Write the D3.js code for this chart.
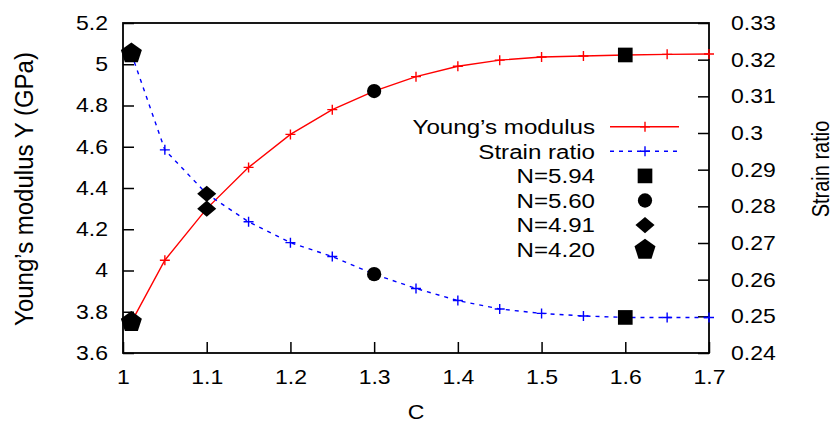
<!DOCTYPE html>
<html>
<head>
<meta charset="utf-8">
<script src="https://cdn.jsdelivr.net/npm/d3@7"></script>
<style>
body { margin: 0; background: #fff; }
svg text { font-family: 'Liberation Sans', Arial, sans-serif; fill: #000; }
</style>
</head>
<body>
<svg id="chart"></svg>
<script>
// sampled C values (both curves share them)
const cValues = [1.01, 1.05, 1.1, 1.15, 1.2, 1.25, 1.3, 1.35, 1.4, 1.45, 1.5, 1.55, 1.6, 1.65, 1.7];
const youngValues = [3.75, 4.05, 4.30, 4.50, 4.66, 4.78, 4.87, 4.94, 4.99, 5.02, 5.035, 5.04, 5.045, 5.048, 5.05];
const strainValues = [0.3217, 0.2954, 0.2834, 0.2758, 0.2701, 0.2663, 0.2615, 0.2576, 0.2543, 0.2520, 0.2508, 0.2501, 0.2497, 0.2497, 0.2497];

// highlighted points
const nLabels = ['N=5.94', 'N=5.60', 'N=4.91', 'N=4.20'];
const nC = [1.6, 1.3, 1.1, 1.01];

const seriesNames = ['Young\u2019s modulus', 'Strain ratio'];
const xTicks = [1, 1.1, 1.2, 1.3, 1.4, 1.5, 1.6, 1.7];
const yTicks = [3.6, 3.8, 4, 4.2, 4.4, 4.6, 4.8, 5, 5.2];
const y2Ticks = [0.24, 0.25, 0.26, 0.27, 0.28, 0.29, 0.3, 0.31, 0.32, 0.33];

const width = 833, height = 423;
const margin = {top: 23, right: 124, bottom: 70, left: 123};
const innerW = width - margin.left - margin.right;
const innerH = height - margin.top - margin.bottom;
const SX = 1.15; // text is a bit wider than tall in the reference

const svg = d3.select('#chart').attr('width', width).attr('height', height);
const chart = svg.append('g')
    .attr('transform', `translate(${margin.left},${margin.top})`);

const xscale = d3.scaleLinear().domain([1, 1.7]).range([0, innerW]);
const yscale = d3.scaleLinear().domain([3.6, 5.2]).range([innerH, 0]);
const y2scale = d3.scaleLinear().domain([0.24, 0.33]).range([innerH, 0]);

// custom marker shapes
const symbolPentagon = {
    draw(ctx, size) {
        const r = Math.sqrt(size / 2.378);
        for (let i = 0; i < 5; i++) {
            const a = -Math.PI / 2 + i * 2 * Math.PI / 5;
            if (i == 0) ctx.moveTo(r * Math.cos(a), r * Math.sin(a));
            else ctx.lineTo(r * Math.cos(a), r * Math.sin(a));
        }
        ctx.closePath();
    }
};
const symbolWideDiamond = {
    draw(ctx, size) {
        const a = Math.sqrt(size / 1.7), b = 0.85 * a;
        ctx.moveTo(0, -b);
        ctx.lineTo(a, 0);
        ctx.lineTo(0, b);
        ctx.lineTo(-a, 0);
        ctx.closePath();
    }
};
const nShapes = [
    d3.symbol(d3.symbolSquare, 215),
    d3.symbol(d3.symbolCircle, 160),
    d3.symbol(symbolWideDiamond, 155),
    d3.symbol(symbolPentagon, 290)
];

// axes, ticks pointing inward
const fmt = d3.format('');
const xaxis = d3.axisBottom(xscale).tickValues(xTicks).tickFormat(fmt)
    .tickSizeInner(-11).tickSizeOuter(0).tickPadding(17);
const yaxis = d3.axisLeft(yscale).tickValues(yTicks).tickFormat(fmt)
    .tickSizeInner(-11).tickSizeOuter(0).tickPadding(15 / SX);
const y2axis = d3.axisRight(y2scale).tickValues(y2Ticks).tickFormat(fmt)
    .tickSizeInner(-11).tickSizeOuter(0).tickPadding(22 / SX);

function styleAxis(g) {
    g.select('.domain').remove();
    g.selectAll('.tick line').attr('stroke', '#000').attr('stroke-width', 1.5);
    g.selectAll('.tick text').style('font-size', '20px').attr('transform', `scale(${SX},1)`);
}
chart.append('g').attr('transform', `translate(0,${innerH})`).call(xaxis).call(styleAxis);
chart.append('g').call(yaxis).call(styleAxis);
chart.append('g').attr('transform', `translate(${innerW},0)`).call(y2axis).call(styleAxis);

chart.append('rect')
    .attr('width', innerW).attr('height', innerH)
    .attr('fill', 'none').attr('stroke', '#000').attr('stroke-width', 1.8);

// curves
const idx = d3.range(cValues.length);
const series = [
    {name: seriesNames[0], values: youngValues, scale: yscale, color: '#ff0000', dash: null},
    {name: seriesNames[1], values: strainValues, scale: y2scale, color: '#0000ff', dash: '4,5'}
];
const plusPath = 'M-5,0H5M0,-5V5';

series.forEach(s => {
    const line = d3.line()
        .x(i => xscale(cValues[i]))
        .y(i => s.scale(s.values[i]));
    chart.append('path')
        .datum(idx)
        .attr('d', line)
        .attr('fill', 'none')
        .attr('stroke', s.color)
        .attr('stroke-width', 1.4)
        .attr('stroke-dasharray', s.dash);
    chart.selectAll(null)
        .data(idx)
        .join('path')
        .attr('transform', i => `translate(${xscale(cValues[i])},${s.scale(s.values[i])})`)
        .attr('d', plusPath)
        .attr('stroke', s.color)
        .attr('stroke-width', 1.4);
});

// N markers sit on both curves
nC.forEach((c, k) => {
    const i = cValues.indexOf(c);
    series.forEach(s => {
        chart.append('path')
            .attr('transform', `translate(${xscale(c)},${s.scale(s.values[i])})`)
            .attr('d', nShapes[k]())
            .attr('fill', '#000');
    });
});

// legend
const legX = 595, legY = 126.7, legStep = 24.6;
const legend = svg.append('g');
const legRows = seriesNames.concat(nLabels);
legRows.forEach((label, r) => {
    const y = legY + r * legStep;
    legend.append('text')
        .attr('transform', `translate(${legX},${y}) scale(${SX},1)`)
        .attr('dy', '0.35em')
        .attr('text-anchor', 'end')
        .style('font-size', '21px')
        .text(label);
    if (r < 2) {
        const s = series[r];
        legend.append('line')
            .attr('x1', 610).attr('x2', 679).attr('y1', y).attr('y2', y)
            .attr('stroke', s.color).attr('stroke-width', 1.4)
            .attr('stroke-dasharray', s.dash);
        legend.append('path')
            .attr('transform', `translate(645,${y})`)
            .attr('d', plusPath)
            .attr('stroke', s.color).attr('stroke-width', 1.4);
    } else {
        legend.append('path')
            .attr('transform', `translate(645,${y})`)
            .attr('d', nShapes[r - 2]())
            .attr('fill', '#000');
    }
});

// axis titles
svg.append('text')
    .attr('transform', `translate(${margin.left + innerW / 2},419) scale(${SX},1)`)
    .attr('text-anchor', 'middle')
    .style('font-size', '20px')
    .text('C');
svg.append('text')
    .attr('transform', `translate(33,189) scale(1.05,1) rotate(-90)`)
    .attr('text-anchor', 'middle')
    .style('font-size', '24px')
    .text('Young\u2019s modulus Y (GPa)');
svg.append('text')
    .attr('transform', `translate(829,169) scale(${SX},1) rotate(-90)`)
    .attr('text-anchor', 'middle')
    .style('font-size', '20px')
    .text('Strain ratio');
</script>
</body>
</html>
